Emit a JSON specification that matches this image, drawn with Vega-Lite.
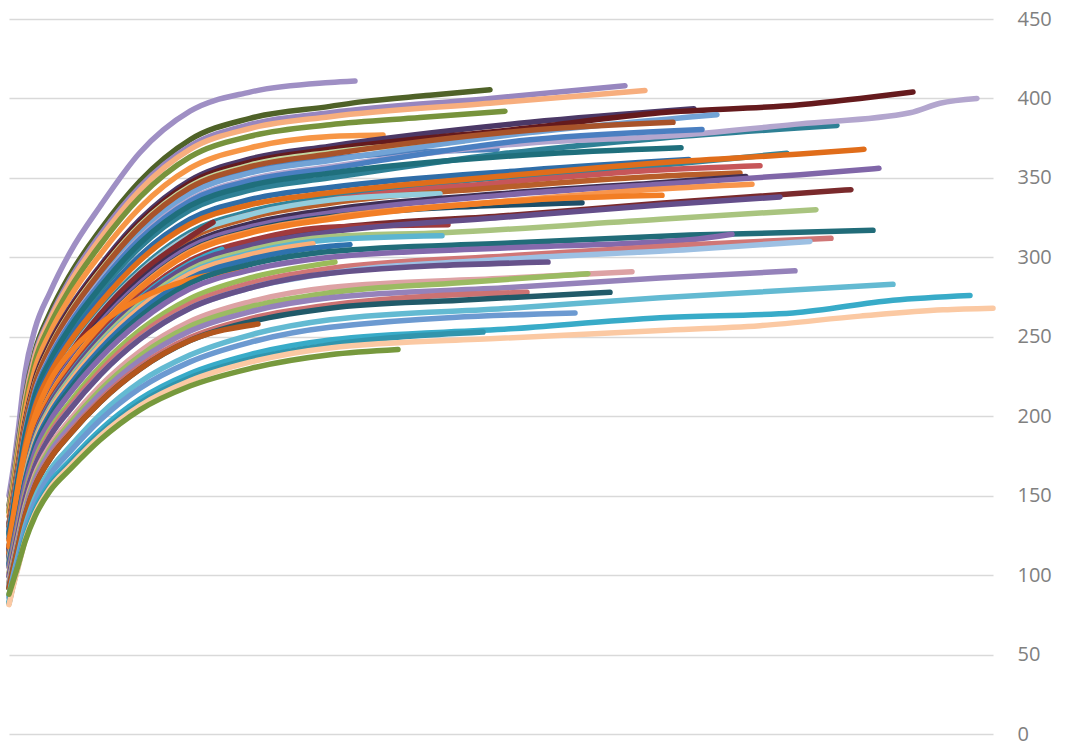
{
"$schema":"https://vega.github.io/schema/vega-lite/v6.json",
"autosize":{"type":"none"},
"width":984,"height":715,
"padding":{"left":9,"top":19,"right":72,"bottom":15},
"background":"#ffffff",
"config":{"view":{"stroke":null}},
"data":{"values":[
{"s":"a01","x":0,"y":150},{"s":"a01","x":4,"y":166},{"s":"a01","x":9,"y":190},{"s":"a01","x":16,"y":227},{"s":"a01","x":26,"y":255},{"s":"a01","x":41,"y":278},{"s":"a01","x":61,"y":303},{"s":"a01","x":91,"y":332},{"s":"a01","x":131,"y":366},{"s":"a01","x":181,"y":392},{"s":"a01","x":241,"y":404},{"s":"a01","x":321,"y":410},{"s":"a01","x":346,"y":411},
{"s":"a02","x":0,"y":144},{"s":"a02","x":4,"y":159},{"s":"a02","x":9,"y":182},{"s":"a02","x":16,"y":212},{"s":"a02","x":26,"y":241},{"s":"a02","x":41,"y":265},{"s":"a02","x":61,"y":289},{"s":"a02","x":91,"y":317},{"s":"a02","x":131,"y":348},{"s":"a02","x":181,"y":374},{"s":"a02","x":241,"y":387.5},{"s":"a02","x":321,"y":395},{"s":"a02","x":354,"y":398},{"s":"a02","x":421,"y":402},{"s":"a02","x":481,"y":405.5},
{"s":"a03","x":0,"y":142},{"s":"a03","x":4,"y":158},{"s":"a03","x":9,"y":180},{"s":"a03","x":16,"y":210},{"s":"a03","x":26,"y":239},{"s":"a03","x":41,"y":262},{"s":"a03","x":61,"y":286},{"s":"a03","x":91,"y":314},{"s":"a03","x":131,"y":344.5},{"s":"a03","x":181,"y":370},{"s":"a03","x":241,"y":383.6},{"s":"a03","x":321,"y":391},{"s":"a03","x":481,"y":400},{"s":"a03","x":616,"y":408},
{"s":"a04","x":0,"y":141},{"s":"a04","x":4,"y":156.6},{"s":"a04","x":9,"y":178.7},{"s":"a04","x":16,"y":208.6},{"s":"a04","x":26,"y":237.4},{"s":"a04","x":41,"y":260.7},{"s":"a04","x":61,"y":284},{"s":"a04","x":91,"y":311.6},{"s":"a04","x":131,"y":342.3},{"s":"a04","x":181,"y":367.9},{"s":"a04","x":241,"y":381.1},{"s":"a04","x":321,"y":388.5},{"s":"a04","x":481,"y":397},{"s":"a04","x":636,"y":405},
{"s":"a05","x":0,"y":139.6},{"s":"a05","x":4,"y":154.6},{"s":"a05","x":9,"y":176.4},{"s":"a05","x":16,"y":205.9},{"s":"a05","x":26,"y":234.3},{"s":"a05","x":41,"y":257.3},{"s":"a05","x":61,"y":280.3},{"s":"a05","x":91,"y":307.6},{"s":"a05","x":131,"y":337.9},{"s":"a05","x":181,"y":363.2},{"s":"a05","x":241,"y":376.2},{"s":"a05","x":321,"y":383.5},{"s":"a05","x":411,"y":388},{"s":"a05","x":496,"y":392},
{"s":"a06","x":0,"y":136.9},{"s":"a06","x":4,"y":151.5},{"s":"a06","x":9,"y":173},{"s":"a06","x":16,"y":201.9},{"s":"a06","x":26,"y":229.7},{"s":"a06","x":41,"y":252.3},{"s":"a06","x":61,"y":274.9},{"s":"a06","x":91,"y":301.6},{"s":"a06","x":131,"y":331.3},{"s":"a06","x":181,"y":356.1},{"s":"a06","x":241,"y":368.9},{"s":"a06","x":321,"y":376},{"s":"a06","x":374,"y":377},
{"s":"a07","x":0,"y":132.5},{"s":"a07","x":4,"y":147.3},{"s":"a07","x":9,"y":168.4},{"s":"a07","x":16,"y":196.1},{"s":"a07","x":26,"y":223.1},{"s":"a07","x":41,"y":246.1},{"s":"a07","x":61,"y":268.3},{"s":"a07","x":91,"y":294.5},{"s":"a07","x":131,"y":323.8},{"s":"a07","x":181,"y":348.5},{"s":"a07","x":241,"y":361.9},{"s":"a07","x":321,"y":370},{"s":"a07","x":521,"y":385},{"s":"a07","x":685,"y":393.5},
{"s":"a08","x":0,"y":131.7},{"s":"a08","x":4,"y":146.5},{"s":"a08","x":9,"y":167.4},{"s":"a08","x":16,"y":195},{"s":"a08","x":26,"y":221.9},{"s":"a08","x":41,"y":244.7},{"s":"a08","x":61,"y":266.8},{"s":"a08","x":91,"y":292.9},{"s":"a08","x":131,"y":322},{"s":"a08","x":181,"y":346.7},{"s":"a08","x":241,"y":359.9},{"s":"a08","x":321,"y":368},{"s":"a08","x":521,"y":381.5},{"s":"a08","x":651,"y":391},{"s":"a08","x":791,"y":396},{"s":"a08","x":851,"y":400},{"s":"a08","x":904,"y":404},
{"s":"a09","x":0,"y":131},{"s":"a09","x":4,"y":145.7},{"s":"a09","x":9,"y":166.5},{"s":"a09","x":16,"y":194},{"s":"a09","x":26,"y":220.7},{"s":"a09","x":41,"y":243.4},{"s":"a09","x":61,"y":265.4},{"s":"a09","x":91,"y":291.3},{"s":"a09","x":131,"y":320.3},{"s":"a09","x":181,"y":344.8},{"s":"a09","x":241,"y":358},{"s":"a09","x":321,"y":366},{"s":"a09","x":454,"y":373},
{"s":"a10","x":0,"y":129.6},{"s":"a10","x":4,"y":144.1},{"s":"a10","x":9,"y":164.7},{"s":"a10","x":16,"y":191.9},{"s":"a10","x":26,"y":218.3},{"s":"a10","x":41,"y":240.7},{"s":"a10","x":61,"y":262.5},{"s":"a10","x":91,"y":288.2},{"s":"a10","x":131,"y":316.8},{"s":"a10","x":181,"y":341},{"s":"a10","x":241,"y":354},{"s":"a10","x":321,"y":362},{"s":"a10","x":488,"y":368},
{"s":"a11","x":0,"y":129.2},{"s":"a11","x":4,"y":143.7},{"s":"a11","x":9,"y":164.3},{"s":"a11","x":16,"y":191.3},{"s":"a11","x":26,"y":217.7},{"s":"a11","x":41,"y":240.1},{"s":"a11","x":61,"y":261.7},{"s":"a11","x":91,"y":287.4},{"s":"a11","x":131,"y":315.9},{"s":"a11","x":181,"y":340.1},{"s":"a11","x":241,"y":353.1},{"s":"a11","x":321,"y":361},{"s":"a11","x":521,"y":378.5},{"s":"a11","x":708,"y":389.8},
{"s":"a12","x":0,"y":130.7},{"s":"a12","x":4,"y":145.3},{"s":"a12","x":9,"y":166.1},{"s":"a12","x":16,"y":193.5},{"s":"a12","x":26,"y":220.1},{"s":"a12","x":41,"y":242.7},{"s":"a12","x":61,"y":264.6},{"s":"a12","x":91,"y":290.5},{"s":"a12","x":131,"y":319.4},{"s":"a12","x":181,"y":343.8},{"s":"a12","x":241,"y":357},{"s":"a12","x":321,"y":365},{"s":"a12","x":521,"y":380},{"s":"a12","x":664,"y":385},
{"s":"a13","x":0,"y":125.3},{"s":"a13","x":4,"y":139.3},{"s":"a13","x":9,"y":159.3},{"s":"a13","x":16,"y":185.5},{"s":"a13","x":26,"y":211.1},{"s":"a13","x":41,"y":232.8},{"s":"a13","x":61,"y":253.8},{"s":"a13","x":91,"y":278.6},{"s":"a13","x":131,"y":306.3},{"s":"a13","x":181,"y":329.7},{"s":"a13","x":241,"y":342.3},{"s":"a13","x":321,"y":350},{"s":"a13","x":491,"y":365},{"s":"a13","x":651,"y":375},{"s":"a13","x":828,"y":383},
{"s":"a14","x":0,"y":127.8},{"s":"a14","x":4,"y":142.1},{"s":"a14","x":9,"y":162.4},{"s":"a14","x":16,"y":189.2},{"s":"a14","x":26,"y":215.3},{"s":"a14","x":41,"y":237.4},{"s":"a14","x":61,"y":258.8},{"s":"a14","x":91,"y":284.2},{"s":"a14","x":131,"y":312.4},{"s":"a14","x":181,"y":336.3},{"s":"a14","x":241,"y":349.1},{"s":"a14","x":321,"y":357},{"s":"a14","x":521,"y":372},{"s":"a14","x":651,"y":376},{"s":"a14","x":791,"y":384},{"s":"a14","x":901,"y":391},{"s":"a14","x":931,"y":397},{"s":"a14","x":968,"y":400},
{"s":"a15","x":0,"y":127.4},{"s":"a15","x":4,"y":141.7},{"s":"a15","x":9,"y":162},{"s":"a15","x":16,"y":188.7},{"s":"a15","x":26,"y":214.7},{"s":"a15","x":41,"y":236.7},{"s":"a15","x":61,"y":258.1},{"s":"a15","x":91,"y":283.4},{"s":"a15","x":131,"y":311.5},{"s":"a15","x":181,"y":335.4},{"s":"a15","x":241,"y":348.2},{"s":"a15","x":321,"y":356},{"s":"a15","x":521,"y":374},{"s":"a15","x":693,"y":380.5},
{"s":"a16","x":0,"y":126.4},{"s":"a16","x":4,"y":140.5},{"s":"a16","x":9,"y":160.6},{"s":"a16","x":16,"y":187.1},{"s":"a16","x":26,"y":212.9},{"s":"a16","x":41,"y":234.7},{"s":"a16","x":61,"y":255.9},{"s":"a16","x":91,"y":281},{"s":"a16","x":131,"y":308.9},{"s":"a16","x":181,"y":332.5},{"s":"a16","x":241,"y":345.2},{"s":"a16","x":321,"y":353},{"s":"a16","x":521,"y":364.6},{"s":"a16","x":672,"y":369},
{"s":"a17","x":0,"y":123.2},{"s":"a17","x":4,"y":136.9},{"s":"a17","x":9,"y":156.5},{"s":"a17","x":16,"y":182.3},{"s":"a17","x":26,"y":207.4},{"s":"a17","x":41,"y":228.8},{"s":"a17","x":61,"y":249.4},{"s":"a17","x":91,"y":273.8},{"s":"a17","x":131,"y":301},{"s":"a17","x":181,"y":324},{"s":"a17","x":241,"y":336.4},{"s":"a17","x":321,"y":344},{"s":"a17","x":521,"y":355},{"s":"a17","x":680,"y":361.5},
{"s":"a18","x":0,"y":118.3},{"s":"a18","x":4,"y":132.5},{"s":"a18","x":9,"y":151.1},{"s":"a18","x":16,"y":175.8},{"s":"a18","x":26,"y":200.1},{"s":"a18","x":41,"y":221.7},{"s":"a18","x":61,"y":241.7},{"s":"a18","x":91,"y":266.3},{"s":"a18","x":131,"y":292.4},{"s":"a18","x":181,"y":315.7},{"s":"a18","x":241,"y":328.9},{"s":"a18","x":321,"y":338},{"s":"a18","x":651,"y":358},{"s":"a18","x":778,"y":365.5},
{"s":"a19","x":0,"y":121.9},{"s":"a19","x":4,"y":135.6},{"s":"a19","x":9,"y":155},{"s":"a19","x":16,"y":180.5},{"s":"a19","x":26,"y":205.4},{"s":"a19","x":41,"y":226.5},{"s":"a19","x":61,"y":246.9},{"s":"a19","x":91,"y":271.1},{"s":"a19","x":131,"y":298},{"s":"a19","x":181,"y":320.8},{"s":"a19","x":241,"y":333.1},{"s":"a19","x":321,"y":340.6},{"s":"a19","x":491,"y":351},{"s":"a19","x":651,"y":359.6},{"s":"a19","x":791,"y":365},{"s":"a19","x":855,"y":368},
{"s":"a20","x":0,"y":117.6},{"s":"a20","x":4,"y":131.7},{"s":"a20","x":9,"y":150.2},{"s":"a20","x":16,"y":174.7},{"s":"a20","x":26,"y":198.9},{"s":"a20","x":41,"y":220.4},{"s":"a20","x":61,"y":240.2},{"s":"a20","x":91,"y":264.8},{"s":"a20","x":131,"y":290.6},{"s":"a20","x":181,"y":313.8},{"s":"a20","x":241,"y":326.9},{"s":"a20","x":321,"y":336},{"s":"a20","x":491,"y":347},{"s":"a20","x":651,"y":355},{"s":"a20","x":751,"y":357.7},
{"s":"a21","x":0,"y":116.9},{"s":"a21","x":4,"y":130.9},{"s":"a21","x":9,"y":149.3},{"s":"a21","x":16,"y":173.7},{"s":"a21","x":26,"y":197.7},{"s":"a21","x":41,"y":219.1},{"s":"a21","x":61,"y":238.8},{"s":"a21","x":91,"y":263.2},{"s":"a21","x":131,"y":288.9},{"s":"a21","x":181,"y":312},{"s":"a21","x":241,"y":325},{"s":"a21","x":321,"y":334},{"s":"a21","x":491,"y":344},{"s":"a21","x":651,"y":351},{"s":"a21","x":731,"y":353},
{"s":"a22","x":0,"y":117.6},{"s":"a22","x":4,"y":131.7},{"s":"a22","x":9,"y":150.2},{"s":"a22","x":16,"y":174.7},{"s":"a22","x":26,"y":198.9},{"s":"a22","x":41,"y":220.4},{"s":"a22","x":61,"y":240.2},{"s":"a22","x":91,"y":264.8},{"s":"a22","x":131,"y":290.6},{"s":"a22","x":181,"y":313.8},{"s":"a22","x":241,"y":326.9},{"s":"a22","x":321,"y":336},{"s":"a22","x":431,"y":340},
{"s":"a23","x":0,"y":117.3},{"s":"a23","x":4,"y":131.3},{"s":"a23","x":9,"y":149.7},{"s":"a23","x":16,"y":174.2},{"s":"a23","x":26,"y":198.3},{"s":"a23","x":41,"y":219.8},{"s":"a23","x":61,"y":239.5},{"s":"a23","x":91,"y":264},{"s":"a23","x":131,"y":289.8},{"s":"a23","x":181,"y":312.9},{"s":"a23","x":204,"y":322},
{"s":"a24","x":0,"y":115.5},{"s":"a24","x":4,"y":129.4},{"s":"a24","x":9,"y":147.5},{"s":"a24","x":16,"y":171.6},{"s":"a24","x":26,"y":195.4},{"s":"a24","x":41,"y":216.5},{"s":"a24","x":61,"y":236},{"s":"a24","x":91,"y":260},{"s":"a24","x":131,"y":285.5},{"s":"a24","x":181,"y":308.2},{"s":"a24","x":241,"y":321.1},{"s":"a24","x":321,"y":330},{"s":"a24","x":491,"y":340},{"s":"a24","x":651,"y":347},{"s":"a24","x":737,"y":350.8},
{"s":"a25","x":0,"y":114.8},{"s":"a25","x":4,"y":128.6},{"s":"a25","x":9,"y":146.6},{"s":"a25","x":16,"y":170.6},{"s":"a25","x":26,"y":194.2},{"s":"a25","x":41,"y":215.2},{"s":"a25","x":61,"y":234.5},{"s":"a25","x":91,"y":258.5},{"s":"a25","x":131,"y":283.7},{"s":"a25","x":181,"y":306.4},{"s":"a25","x":241,"y":319.1},{"s":"a25","x":321,"y":328},{"s":"a25","x":491,"y":339},{"s":"a25","x":651,"y":346},{"s":"a25","x":791,"y":352},{"s":"a25","x":870,"y":356},
{"s":"a26","x":0,"y":114},{"s":"a26","x":4,"y":127.6},{"s":"a26","x":9,"y":145.5},{"s":"a26","x":16,"y":169.3},{"s":"a26","x":26,"y":192.8},{"s":"a26","x":41,"y":213.6},{"s":"a26","x":61,"y":232.8},{"s":"a26","x":91,"y":256.6},{"s":"a26","x":131,"y":281.6},{"s":"a26","x":181,"y":304.1},{"s":"a26","x":241,"y":316.8},{"s":"a26","x":321,"y":325.6},{"s":"a26","x":573,"y":334.4},
{"s":"a27","x":0,"y":113.8},{"s":"a27","x":4,"y":127.4},{"s":"a27","x":9,"y":145.3},{"s":"a27","x":16,"y":169},{"s":"a27","x":26,"y":192.4},{"s":"a27","x":41,"y":213.2},{"s":"a27","x":61,"y":232.4},{"s":"a27","x":91,"y":256.1},{"s":"a27","x":131,"y":281.1},{"s":"a27","x":181,"y":303.6},{"s":"a27","x":241,"y":316.2},{"s":"a27","x":321,"y":325},{"s":"a27","x":491,"y":335},{"s":"a27","x":651,"y":343},{"s":"a27","x":743,"y":346},
{"s":"a28","x":0,"y":113.4},{"s":"a28","x":4,"y":127},{"s":"a28","x":9,"y":144.8},{"s":"a28","x":16,"y":168.5},{"s":"a28","x":26,"y":191.8},{"s":"a28","x":41,"y":212.5},{"s":"a28","x":61,"y":231.7},{"s":"a28","x":91,"y":255.3},{"s":"a28","x":131,"y":280.3},{"s":"a28","x":181,"y":302.6},{"s":"a28","x":241,"y":315.3},{"s":"a28","x":321,"y":324},{"s":"a28","x":521,"y":336},{"s":"a28","x":653,"y":339},
{"s":"a29","x":0,"y":111.3},{"s":"a29","x":4,"y":124.7},{"s":"a29","x":9,"y":142.1},{"s":"a29","x":16,"y":165.4},{"s":"a29","x":26,"y":188.3},{"s":"a29","x":41,"y":208.6},{"s":"a29","x":61,"y":227.4},{"s":"a29","x":91,"y":250.6},{"s":"a29","x":131,"y":275.1},{"s":"a29","x":181,"y":297},{"s":"a29","x":241,"y":309.4},{"s":"a29","x":321,"y":318},{"s":"a29","x":491,"y":326},{"s":"a29","x":651,"y":334},{"s":"a29","x":842,"y":342.6},
{"s":"a30","x":0,"y":111.7},{"s":"a30","x":4,"y":125},{"s":"a30","x":9,"y":142.6},{"s":"a30","x":16,"y":165.9},{"s":"a30","x":26,"y":188.8},{"s":"a30","x":41,"y":209.3},{"s":"a30","x":61,"y":228.1},{"s":"a30","x":91,"y":251.4},{"s":"a30","x":131,"y":275.9},{"s":"a30","x":181,"y":297.9},{"s":"a30","x":241,"y":310.4},{"s":"a30","x":321,"y":319},{"s":"a30","x":439,"y":320.5},
{"s":"a31","x":0,"y":111},{"s":"a31","x":4,"y":124.3},{"s":"a31","x":9,"y":141.7},{"s":"a31","x":16,"y":164.8},{"s":"a31","x":26,"y":187.7},{"s":"a31","x":41,"y":208},{"s":"a31","x":61,"y":226.7},{"s":"a31","x":91,"y":249.8},{"s":"a31","x":131,"y":274.2},{"s":"a31","x":181,"y":296.1},{"s":"a31","x":213,"y":305},
{"s":"a32","x":0,"y":110.6},{"s":"a32","x":4,"y":123.9},{"s":"a32","x":9,"y":141.3},{"s":"a32","x":16,"y":164.3},{"s":"a32","x":26,"y":187.1},{"s":"a32","x":41,"y":207.3},{"s":"a32","x":61,"y":225.9},{"s":"a32","x":91,"y":249},{"s":"a32","x":131,"y":273.3},{"s":"a32","x":181,"y":295.1},{"s":"a32","x":241,"y":307.5},{"s":"a32","x":321,"y":316},{"s":"a32","x":491,"y":325},{"s":"a32","x":651,"y":333},{"s":"a32","x":771,"y":338},
{"s":"a33","x":0,"y":109.6},{"s":"a33","x":4,"y":122.7},{"s":"a33","x":9,"y":139.9},{"s":"a33","x":16,"y":162.8},{"s":"a33","x":26,"y":185.3},{"s":"a33","x":41,"y":205.3},{"s":"a33","x":61,"y":223.8},{"s":"a33","x":91,"y":246.6},{"s":"a33","x":131,"y":270.7},{"s":"a33","x":181,"y":292.3},{"s":"a33","x":241,"y":304.5},{"s":"a33","x":321,"y":313},{"s":"a33","x":434,"y":315.5},{"s":"a33","x":651,"y":324},{"s":"a33","x":807,"y":330},
{"s":"a34","x":0,"y":108.9},{"s":"a34","x":4,"y":121.9},{"s":"a34","x":9,"y":139},{"s":"a34","x":16,"y":161.7},{"s":"a34","x":26,"y":184.1},{"s":"a34","x":41,"y":204},{"s":"a34","x":61,"y":222.4},{"s":"a34","x":91,"y":245.1},{"s":"a34","x":131,"y":269},{"s":"a34","x":181,"y":290.5},{"s":"a34","x":241,"y":302.6},{"s":"a34","x":321,"y":311},{"s":"a34","x":433,"y":313.6},
{"s":"a35","x":0,"y":108.5},{"s":"a35","x":4,"y":121.5},{"s":"a35","x":9,"y":138.6},{"s":"a35","x":16,"y":161.2},{"s":"a35","x":26,"y":183.5},{"s":"a35","x":41,"y":203.4},{"s":"a35","x":61,"y":221.7},{"s":"a35","x":91,"y":244.3},{"s":"a35","x":131,"y":268.2},{"s":"a35","x":181,"y":289.5},{"s":"a35","x":241,"y":301.6},{"s":"a35","x":304,"y":308.5},
{"s":"a36","x":0,"y":107.5},{"s":"a36","x":4,"y":120.3},{"s":"a36","x":9,"y":137.2},{"s":"a36","x":16,"y":159.6},{"s":"a36","x":26,"y":181.7},{"s":"a36","x":41,"y":201.4},{"s":"a36","x":61,"y":219.5},{"s":"a36","x":91,"y":241.9},{"s":"a36","x":131,"y":265.6},{"s":"a36","x":181,"y":286.7},{"s":"a36","x":241,"y":298.7},{"s":"a36","x":321,"y":307},{"s":"a36","x":341,"y":308},
{"s":"a37","x":0,"y":118},{"s":"a37","x":4,"y":135},{"s":"a37","x":9,"y":155},{"s":"a37","x":16,"y":178},{"s":"a37","x":26,"y":200},{"s":"a37","x":41,"y":222},{"s":"a37","x":61,"y":240},{"s":"a37","x":91,"y":258},{"s":"a37","x":131,"y":274},{"s":"a37","x":181,"y":286},{"s":"a37","x":236,"y":292},
{"s":"a38","x":0,"y":106.3},{"s":"a38","x":4,"y":119.1},{"s":"a38","x":9,"y":135.8},{"s":"a38","x":16,"y":157.9},{"s":"a38","x":26,"y":179.8},{"s":"a38","x":41,"y":199.2},{"s":"a38","x":61,"y":217.1},{"s":"a38","x":91,"y":239.3},{"s":"a38","x":131,"y":262.7},{"s":"a38","x":181,"y":283.7},{"s":"a38","x":241,"y":295.5},{"s":"a38","x":321,"y":303.7},{"s":"a38","x":501,"y":309},{"s":"a38","x":681,"y":314},{"s":"a38","x":864,"y":317},
{"s":"a39","x":0,"y":105},{"s":"a39","x":4,"y":117.6},{"s":"a39","x":9,"y":134.1},{"s":"a39","x":16,"y":156},{"s":"a39","x":26,"y":177.6},{"s":"a39","x":41,"y":196.8},{"s":"a39","x":61,"y":214.5},{"s":"a39","x":91,"y":236.4},{"s":"a39","x":131,"y":259.5},{"s":"a39","x":181,"y":280.2},{"s":"a39","x":241,"y":291.9},{"s":"a39","x":321,"y":300},{"s":"a39","x":501,"y":306},{"s":"a39","x":681,"y":311},{"s":"a39","x":723,"y":314.5},
{"s":"a40","x":0,"y":101.4},{"s":"a40","x":4,"y":114.4},{"s":"a40","x":9,"y":129.9},{"s":"a40","x":16,"y":151.2},{"s":"a40","x":26,"y":172.3},{"s":"a40","x":41,"y":191.5},{"s":"a40","x":61,"y":208.7},{"s":"a40","x":91,"y":231},{"s":"a40","x":131,"y":254.1},{"s":"a40","x":181,"y":274},{"s":"a40","x":241,"y":287},{"s":"a40","x":326,"y":297},
{"s":"a41","x":0,"y":100.2},{"s":"a41","x":4,"y":113.1},{"s":"a41","x":9,"y":128.3},{"s":"a41","x":16,"y":149.4},{"s":"a41","x":26,"y":170.2},{"s":"a41","x":41,"y":189.3},{"s":"a41","x":61,"y":206.3},{"s":"a41","x":91,"y":228.2},{"s":"a41","x":131,"y":251.1},{"s":"a41","x":181,"y":270.7},{"s":"a41","x":241,"y":283.6},{"s":"a41","x":321,"y":293},{"s":"a41","x":501,"y":301},{"s":"a41","x":681,"y":308},{"s":"a41","x":822,"y":312},
{"s":"a42","x":0,"y":99.2},{"s":"a42","x":4,"y":111.9},{"s":"a42","x":9,"y":127},{"s":"a42","x":16,"y":147.9},{"s":"a42","x":26,"y":168.5},{"s":"a42","x":41,"y":187.3},{"s":"a42","x":61,"y":204.2},{"s":"a42","x":91,"y":225.9},{"s":"a42","x":131,"y":248.5},{"s":"a42","x":181,"y":268},{"s":"a42","x":241,"y":280.7},{"s":"a42","x":321,"y":290},{"s":"a42","x":501,"y":299},{"s":"a42","x":681,"y":305},{"s":"a42","x":801,"y":310},
{"s":"a43","x":0,"y":99.2},{"s":"a43","x":4,"y":111.9},{"s":"a43","x":9,"y":127},{"s":"a43","x":16,"y":147.9},{"s":"a43","x":26,"y":168.5},{"s":"a43","x":41,"y":187.3},{"s":"a43","x":61,"y":204.2},{"s":"a43","x":91,"y":225.9},{"s":"a43","x":131,"y":248.5},{"s":"a43","x":181,"y":268},{"s":"a43","x":241,"y":280.7},{"s":"a43","x":321,"y":290},{"s":"a43","x":539,"y":297},
{"s":"a44","x":0,"y":96.1},{"s":"a44","x":4,"y":108.5},{"s":"a44","x":9,"y":123.1},{"s":"a44","x":16,"y":143.3},{"s":"a44","x":26,"y":163.3},{"s":"a44","x":41,"y":181.5},{"s":"a44","x":61,"y":197.8},{"s":"a44","x":91,"y":218.9},{"s":"a44","x":131,"y":240.8},{"s":"a44","x":181,"y":259.6},{"s":"a44","x":241,"y":272},{"s":"a44","x":321,"y":281},{"s":"a44","x":501,"y":287},{"s":"a44","x":623,"y":291},
{"s":"a45","x":0,"y":95},{"s":"a45","x":4,"y":107.2},{"s":"a45","x":9,"y":121.6},{"s":"a45","x":16,"y":141.6},{"s":"a45","x":26,"y":161.3},{"s":"a45","x":41,"y":179.4},{"s":"a45","x":61,"y":195.5},{"s":"a45","x":91,"y":216.3},{"s":"a45","x":131,"y":238},{"s":"a45","x":181,"y":256.6},{"s":"a45","x":241,"y":268.8},{"s":"a45","x":321,"y":277.7},{"s":"a45","x":451,"y":284},{"s":"a45","x":579,"y":289.7},
{"s":"a46","x":0,"y":93.9},{"s":"a46","x":4,"y":106},{"s":"a46","x":9,"y":120.2},{"s":"a46","x":16,"y":140},{"s":"a46","x":26,"y":159.5},{"s":"a46","x":41,"y":177.3},{"s":"a46","x":61,"y":193.2},{"s":"a46","x":91,"y":213.8},{"s":"a46","x":131,"y":235.2},{"s":"a46","x":181,"y":253.6},{"s":"a46","x":241,"y":265.7},{"s":"a46","x":321,"y":274.5},{"s":"a46","x":501,"y":281},{"s":"a46","x":651,"y":287},{"s":"a46","x":786,"y":291.5},
{"s":"a47","x":0,"y":92.3},{"s":"a47","x":4,"y":104.2},{"s":"a47","x":9,"y":118.3},{"s":"a47","x":16,"y":137.7},{"s":"a47","x":26,"y":156.9},{"s":"a47","x":41,"y":174.4},{"s":"a47","x":61,"y":190.1},{"s":"a47","x":91,"y":210.3},{"s":"a47","x":131,"y":231.4},{"s":"a47","x":181,"y":249.5},{"s":"a47","x":241,"y":261.4},{"s":"a47","x":321,"y":270},{"s":"a47","x":518,"y":278},
{"s":"a48","x":0,"y":91.7},{"s":"a48","x":4,"y":103.4},{"s":"a48","x":9,"y":117.4},{"s":"a48","x":16,"y":136.7},{"s":"a48","x":26,"y":155.7},{"s":"a48","x":41,"y":173.1},{"s":"a48","x":61,"y":188.7},{"s":"a48","x":91,"y":208.8},{"s":"a48","x":131,"y":229.7},{"s":"a48","x":181,"y":247.6},{"s":"a48","x":241,"y":259.4},{"s":"a48","x":321,"y":268},{"s":"a48","x":451,"y":273},{"s":"a48","x":601,"y":278},
{"s":"a49","x":0,"y":91.7},{"s":"a49","x":4,"y":103.4},{"s":"a49","x":9,"y":117.4},{"s":"a49","x":16,"y":136.7},{"s":"a49","x":26,"y":155.7},{"s":"a49","x":41,"y":173.1},{"s":"a49","x":61,"y":188.7},{"s":"a49","x":91,"y":208.8},{"s":"a49","x":131,"y":229.7},{"s":"a49","x":181,"y":247.6},{"s":"a49","x":249,"y":258},
{"s":"a50","x":0,"y":87.3},{"s":"a50","x":4,"y":99.1},{"s":"a50","x":9,"y":112.1},{"s":"a50","x":16,"y":130.4},{"s":"a50","x":26,"y":148.6},{"s":"a50","x":41,"y":166.1},{"s":"a50","x":61,"y":180.9},{"s":"a50","x":91,"y":201},{"s":"a50","x":131,"y":221.6},{"s":"a50","x":181,"y":238.5},{"s":"a50","x":241,"y":251.1},{"s":"a50","x":321,"y":260.7},{"s":"a50","x":501,"y":268},{"s":"a50","x":651,"y":274.6},{"s":"a50","x":884,"y":283},
{"s":"a51","x":0,"y":85.8},{"s":"a51","x":4,"y":97.3},{"s":"a51","x":9,"y":110.1},{"s":"a51","x":16,"y":128},{"s":"a51","x":26,"y":145.9},{"s":"a51","x":41,"y":163.1},{"s":"a51","x":61,"y":177.7},{"s":"a51","x":91,"y":197.4},{"s":"a51","x":131,"y":217.6},{"s":"a51","x":181,"y":234.2},{"s":"a51","x":241,"y":246.5},{"s":"a51","x":321,"y":256},{"s":"a51","x":566,"y":265},
{"s":"a52","x":0,"y":83.1},{"s":"a52","x":4,"y":94.2},{"s":"a52","x":9,"y":106.6},{"s":"a52","x":16,"y":124},{"s":"a52","x":26,"y":141.4},{"s":"a52","x":41,"y":158},{"s":"a52","x":61,"y":172.1},{"s":"a52","x":91,"y":191.2},{"s":"a52","x":131,"y":210.8},{"s":"a52","x":181,"y":226.9},{"s":"a52","x":241,"y":238.8},{"s":"a52","x":321,"y":248},{"s":"a52","x":501,"y":255},{"s":"a52","x":651,"y":262},{"s":"a52","x":784,"y":265},{"s":"a52","x":884,"y":273},{"s":"a52","x":961,"y":276},
{"s":"a53","x":0,"y":82.1},{"s":"a53","x":4,"y":93.1},{"s":"a53","x":9,"y":105.4},{"s":"a53","x":16,"y":122.5},{"s":"a53","x":26,"y":139.7},{"s":"a53","x":41,"y":156.1},{"s":"a53","x":61,"y":170},{"s":"a53","x":91,"y":188.9},{"s":"a53","x":131,"y":208.3},{"s":"a53","x":181,"y":224.2},{"s":"a53","x":241,"y":235.9},{"s":"a53","x":321,"y":245},{"s":"a53","x":474,"y":253},
{"s":"a54","x":0,"y":81.4},{"s":"a54","x":4,"y":92.3},{"s":"a54","x":9,"y":104.5},{"s":"a54","x":16,"y":121.5},{"s":"a54","x":26,"y":138.5},{"s":"a54","x":41,"y":154.8},{"s":"a54","x":61,"y":168.6},{"s":"a54","x":91,"y":187.4},{"s":"a54","x":131,"y":206.6},{"s":"a54","x":181,"y":222.3},{"s":"a54","x":241,"y":234},{"s":"a54","x":321,"y":243},{"s":"a54","x":491,"y":249},{"s":"a54","x":651,"y":254},{"s":"a54","x":751,"y":257},{"s":"a54","x":851,"y":263},{"s":"a54","x":934,"y":267},{"s":"a54","x":984,"y":268},
{"s":"a55","x":0,"y":88},{"s":"a55","x":4,"y":96},{"s":"a55","x":9,"y":106},{"s":"a55","x":16,"y":121},{"s":"a55","x":26,"y":137},{"s":"a55","x":41,"y":153},{"s":"a55","x":61,"y":166.5},{"s":"a55","x":91,"y":185},{"s":"a55","x":131,"y":204},{"s":"a55","x":181,"y":219},{"s":"a55","x":241,"y":230},{"s":"a55","x":321,"y":238.7},{"s":"a55","x":389,"y":242}
]},
"mark":{"type":"line","strokeWidth":5.5,"strokeCap":"round","strokeJoin":"round","interpolate":"monotone"},
"encoding":{
"x":{"field":"x","type":"quantitative","scale":{"domain":[0,984],"nice":false,"zero":false},"axis":null},
"y":{"field":"y","type":"quantitative","scale":{"domain":[0,450],"nice":false},
"axis":{"orient":"right","values":[0,50,100,150,200,250,300,350,400,450],"grid":true,"gridColor":"#d9d9d9","gridWidth":1.5,"domain":false,"ticks":false,"labelPadding":24,"labelAlign":"left","labelFont":"Open Sans","labelFontSize":20,"labelColor":"#808080","labelFlush":false,"labelOverlap":false,"title":null}},
"color":{"field":"s","type":"nominal","legend":null,"scale":{
"domain":["a01","a02","a03","a04","a05","a06","a07","a08","a09","a10","a11","a12","a13","a14","a15","a16","a17","a18","a19","a20","a21","a22","a23","a24","a25","a26","a27","a28","a29","a30","a31","a32","a33","a34","a35","a36","a37","a38","a39","a40","a41","a42","a43","a44","a45","a46","a47","a48","a49","a50","a51","a52","a53","a54","a55"],
"range":["#9F8FC4","#4F6228","#9786BF","#F7AE7E","#77933C","#F79646","#4B3866","#651A1D","#C3D79F","#4F82BF","#72A3D6","#A8532A","#2E8095","#B3A6CE","#4A7FC1","#1F6F7C","#2F6DA8","#31859C","#E06D1A","#C75659","#B85E2A","#93CDDD","#852B2F","#3F2F55","#8066A8","#1D4E68","#F8954C","#F27E25","#7A2A2C","#A03A3C","#35A9C9","#644E8A","#A9C47F","#5CB5D0","#FAAE78","#2E72AE","#F47E21","#216C79","#8469AC","#9BBB59","#D07676","#9DC0E3","#66528A","#DDA2A4","#9BBB62","#9582BA","#CC7272","#215A69","#B3561D","#63BAD2","#6C9AD1","#38ABC8","#3195AD","#FBC9A3","#77993D"]}}
}
}
